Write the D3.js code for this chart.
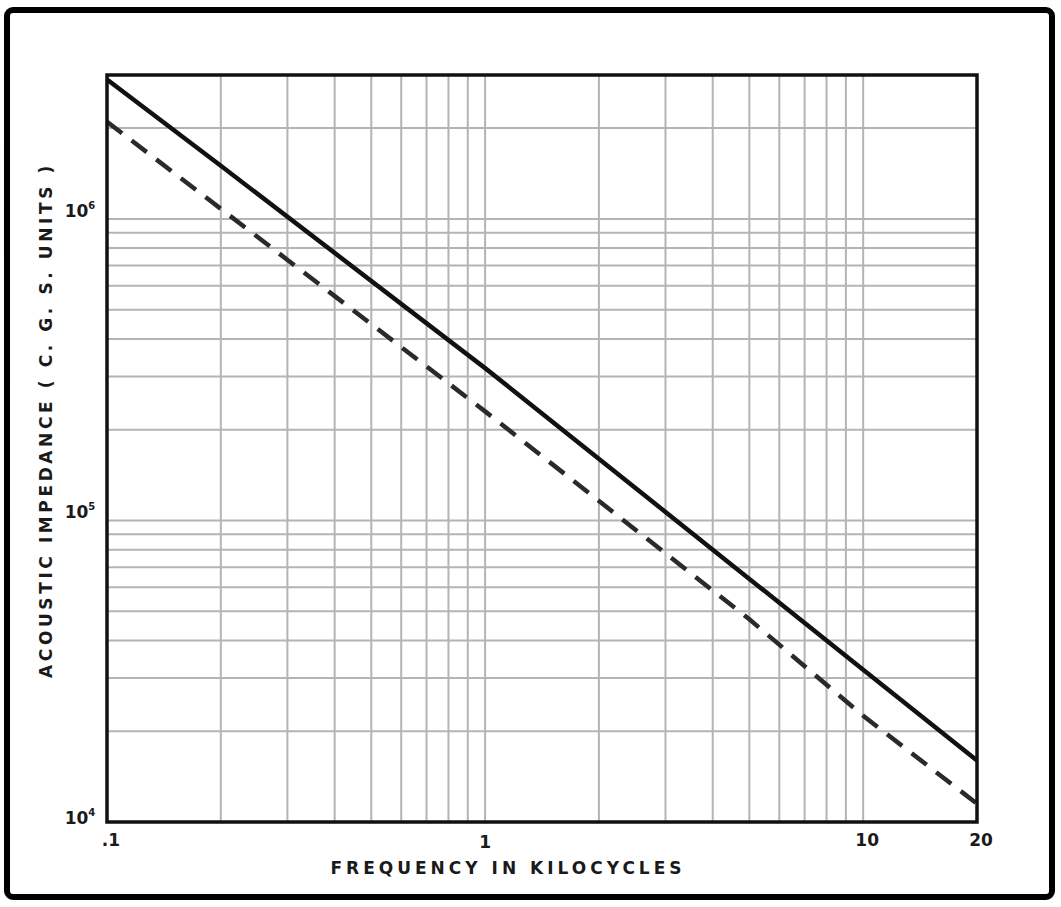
<!DOCTYPE html>
<html>
  <head>
    <script src="https://d3js.org/d3.v7.min.js"></script>
    <style>
      body {margin: 0; background: #fff;}
      #grid line {stroke: #b4b4b4; stroke-width: 2;}
      .lbl {font-family: "DejaVu Sans", "Liberation Sans", sans-serif; font-weight: bold; fill: #1a1a1a;}
    </style>
  </head>
  <body>
    <svg id="chart" width="1061" height="907">
      <g id="grid"/>
      <g id="curves"/>
      <g id="labels"/>
    </svg>
  </body>
  <script>
      // values (frequency in kc, impedance in c.g.s. units)
      let freqKc = [0.1, 0.2, 1, 5, 10, 20];
      let solidZ = [2.9e6, 1.5e6, 3.2e5, 6.4e4, 3.2e4, 1.6e4];
      let dashedZ = [2.1e6, 1.08e6, 2.3e5, 4.7e4, 2.25e4, 1.15e4];
      let xTicks = [".1", "1", "10", "20"];
      let xTickVals = [0.1, 1, 10, 20];
      let yTickExp = ["4", "5", "6"];
      let yTickVals = [1e4, 1e5, 1e6];

      let margins = {left: 107, right: 977, top: 75, bottom: 822};

      let x = d3.scaleLog().domain([0.1, 20]).range([margins.left, margins.right]);
      let y = d3.scaleLog().domain([1e4, 3e6]).range([margins.bottom, margins.top]);

      let svg = d3.select("#chart");

      // outer frame
      svg.append("rect")
          .attr("x", 7).attr("y", 10).attr("width", 1045).attr("height", 887)
          .attr("rx", 6).attr("fill", "none").attr("stroke", "#000").attr("stroke-width", 6);

      // log grid: 1..9 in every decade
      let xGrid = [], yGrid = [];
      [0.1, 1, 10].forEach(d => d3.range(1, 10).forEach(m => {
          let v = +(d * m).toPrecision(3);
          if (v > 0.1 && v < 20) xGrid.push(v);
      }));
      [1e4, 1e5, 1e6].forEach(d => d3.range(1, 10).forEach(m => {
          let v = d * m;
          if (v > 1e4 && v < 3e6) yGrid.push(v);
      }));

      d3.select("#grid").selectAll("line.v").data(xGrid).enter().append("line")
          .attr("class", "v")
          .attr("x1", d => x(d)).attr("x2", d => x(d))
          .attr("y1", margins.top).attr("y2", margins.bottom);
      d3.select("#grid").selectAll("line.h").data(yGrid).enter().append("line")
          .attr("class", "h")
          .attr("x1", margins.left).attr("x2", margins.right)
          .attr("y1", d => y(d)).attr("y2", d => y(d));

      // plot border
      svg.append("rect")
          .attr("x", margins.left).attr("y", margins.top)
          .attr("width", margins.right - margins.left).attr("height", margins.bottom - margins.top)
          .attr("fill", "none").attr("stroke", "#111").attr("stroke-width", 3.5);

      let line = d3.line().x(d => x(d[0])).y(d => y(d[1]));

      d3.select("#curves").append("path")
          .datum(d3.zip(freqKc, solidZ))
          .attr("d", line).attr("fill", "none")
          .attr("stroke", "#111").attr("stroke-width", 4.5);

      d3.select("#curves").append("path")
          .datum(d3.zip(freqKc, dashedZ))
          .attr("d", line).attr("fill", "none")
          .attr("stroke", "#2a2a2a").attr("stroke-width", 4.5)
          .attr("stroke-dasharray", "19,12");

      let labels = d3.select("#labels");

      // x tick labels
      labels.selectAll("text.xt").data(d3.zip(xTicks, xTickVals)).enter().append("text")
          .attr("class", "lbl xt")
          .attr("x", d => x(d[1]) + (d[0] === "1" ? 0 : 4))
          .attr("y", d => d[0] === "1" ? 848 : 846)
          .attr("text-anchor", "middle")
          .attr("font-size", 17)
          .text(d => d[0]);

      // y tick labels: 10 with superscript exponent
      let yt = labels.selectAll("text.yt").data(d3.zip(yTickExp, yTickVals)).enter().append("text")
          .attr("class", "lbl yt")
          .attr("x", 80)
          .attr("y", d => y(d[1]) + (d[1] === 1e4 ? 2 : -2))
          .attr("text-anchor", "middle")
          .attr("font-size", 17);
      yt.append("tspan").text("10");
      yt.append("tspan").attr("dy", -8).attr("font-size", 10).text(d => d[0]);

      // axis titles
      labels.append("text")
          .attr("class", "lbl")
          .attr("x", 508).attr("y", 874)
          .attr("text-anchor", "middle")
          .attr("font-size", 17)
          .attr("letter-spacing", 4)
          .text("FREQUENCY  IN  KILOCYCLES");

      labels.append("text")
          .attr("class", "lbl")
          .attr("transform", "translate(52,420) rotate(-90)")
          .attr("text-anchor", "middle")
          .attr("font-size", 17)
          .attr("letter-spacing", 3.6)
          .text("ACOUSTIC  IMPEDANCE  ( C. G. S.  UNITS )");
  </script>
</html>
